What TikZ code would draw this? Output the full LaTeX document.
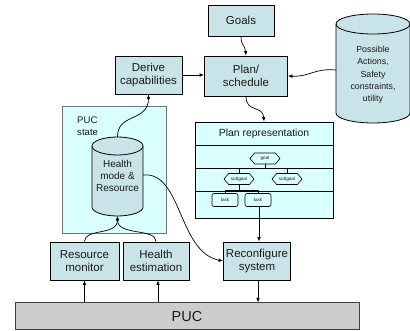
\documentclass[tikz,border=0pt]{standalone}
\usepackage{fontspec}
\setmainfont{Liberation Sans}
\usetikzlibrary{arrows.meta,shapes.symbols}

\definecolor{boxfill}{HTML}{C9E4E8}
\definecolor{panefill}{HTML}{D9FFFF}
\definecolor{pucfill}{HTML}{CCCCCC}
\definecolor{ink}{HTML}{1A1A1A}

\begin{document}
\begin{tikzpicture}[x=1pt,y=-1pt,
  every node/.style={inner sep=0pt, text=ink},
  block/.style={draw=black, line width=0.9pt, fill=boxfill, align=center,
    font=\fontsize{11.5}{13.5}\selectfont},
  pane/.style={draw=#1, line width=0.8pt, fill=panefill},
  pane/.default=black,
  link/.style={-{Latex[length=4.5pt,width=3.6pt]}, line width=0.7pt},
  tree/.style={line width=0.9pt},
  hexa/.style={signal, signal to=west and east, signal pointer angle=100,
    draw=black, line width=0.6pt, minimum width=30pt, minimum height=11pt,
    font=\fontsize{4.6}{5.5}\selectfont},
  taskbox/.style={draw=black, line width=0.6pt, rounded corners=2pt,
    minimum width=26pt, minimum height=13pt, font=\fontsize{4.6}{5.5}\selectfont},
  cyl/.style={draw=black, line width=0.8pt, fill=boxfill}]

\useasboundingbox (0,0) rectangle (410,331);

% top row
\node[block, minimum width=66pt, minimum height=31pt] (goals) at (241,20.5) {Goals};
\node[block, minimum width=83pt, minimum height=40pt] (plansched) at (246,76) {Plan/\\schedule};
\node[block, minimum width=67pt, minimum height=38pt] (derive) at (148.5,75) {Derive\\capabilities};

% knowledge store on the right
\path[cyl] (336,24) -- (336,113) arc (180:360:37pt and 10pt) -- (410,24)
  arc (0:180:37pt and 10pt) -- cycle;
\draw[line width=0.8pt] (336,24) arc (180:360:37pt and 10pt);
\coordinate (storeport) at (336,70);
\node[font=\fontsize{8.8}{12.3}\selectfont, align=center] (actions) at (373,75)
  {Possible\\Actions,\\Safety\\constraints,\\utility};

% plan representation pane
\node[pane, minimum width=138pt, minimum height=96pt] (planrep) at (264,170) {};
\node[font=\fontsize{10.4}{12}\selectfont] (planlabel) at (264,134) {Plan representation};
\draw[line width=0.8pt] (planrep.west |- 0,145) -- (planrep.east |- 0,145);
\draw[line width=0.8pt] (planrep.west |- 0,168) -- (planrep.east |- 0,168);
\draw[line width=0.8pt] (planrep.west |- 0,191) -- (planrep.east |- 0,191);

\node[hexa] (goal) at (265,158.5) {goal};
\node[hexa] (subA) at (239,179) {subgoal};
\node[hexa] (subB) at (287,179) {subgoal};
\node[taskbox] (taskA) at (225,200) {task};
\node[taskbox] (taskB) at (258,200) {task};
\draw[tree] (goal.south) -- ++(0,4) coordinate (j1);
\draw[tree] (subA.north) |- (j1) -| (subB.north);
\draw[tree] (subA.south) -- ++(0,5.5) coordinate (j2);
\draw[tree] (taskA.north) |- (j2) -| (taskB.north);

% PUC state pane with the health store
\node[pane=black!55, minimum width=104pt, minimum height=127pt] (pucstate) at (114,169.5) {};
\node[font=\fontsize{9.6}{12}\selectfont, align=left, anchor=north west] (statelabel) at (77,117) {PUC\\state};
\path[cyl] (92,146) -- (92,207) arc (180:360:25.5pt and 9pt) -- (143,146)
  arc (0:180:25.5pt and 9pt) -- cycle;
\draw[line width=0.8pt] (92,146) arc (180:360:25.5pt and 9pt);
\coordinate (healthtop) at (117.5,137);
\coordinate (healthbot) at (117.5,216);
\coordinate (healthright) at (143,175);
\node[font=\fontsize{10}{12}\selectfont, align=center] (health) at (117.5,175.5) {Health\\mode \&\\Resource};

% bottom row
\node[block, minimum width=69pt, minimum height=38pt] (resmon) at (84.5,261) {Resource\\monitor};
\node[block, minimum width=66pt, minimum height=38pt] (healthest) at (156,261) {Health\\estimation};
\node[block, minimum width=67pt, minimum height=38pt] (reconf) at (257,261) {Reconfigure\\system};
\node[draw=black!75, line width=1pt, fill=pucfill, minimum width=344pt, minimum height=27pt,
  font=\fontsize{14.5}{16}\selectfont] (puc) at (187,316.5) {PUC};

% connectors
\draw[link] (derive.east) -- (derive.east -| plansched.west);
\draw[link] (goals.south) .. controls (241,46) and (245,45) .. (plansched.north);
\draw[link] (storeport) .. controls (314,68) and (310,77) .. (plansched.east);
\draw[link] (plansched.south) .. controls (246,113) and (263,105) .. (planrep.north);
\draw[link] (healthtop) .. controls (117,113) and (148.5,122) .. (derive.south);
\draw[link] (healthright) .. controls (182,171) and (178,252) .. (reconf.west);
\draw[link] ([xshift=1pt]taskB.south) -- ([xshift=1pt]taskB.south |- reconf.north);
\draw[link] (resmon.north) .. controls (84.5,228) and (117.5,236) .. (healthbot);
\draw[link] (healthest.north) .. controls (156,228) and (117.5,236) .. (healthbot);
\draw[link] (resmon.south |- puc.north) -- (resmon.south);
\draw[link] ([xshift=2pt]healthest.south |- puc.north) -- ([xshift=2pt]healthest.south);
\draw[link] ([xshift=1pt]reconf.south) -- ([xshift=1pt]reconf.south |- puc.north);
\end{tikzpicture}
\end{document}
